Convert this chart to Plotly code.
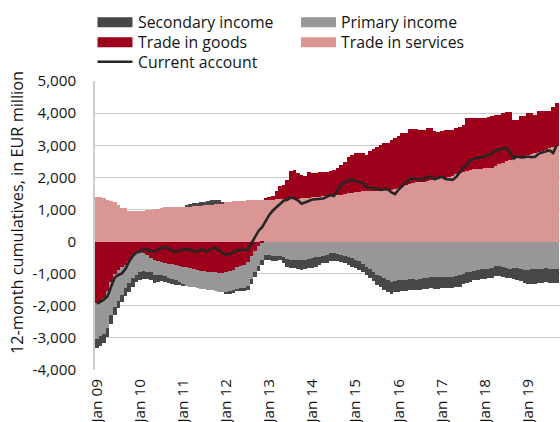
import plotly.graph_objects as go

# ---------------- data (EUR million, 12-month cumulatives, Jan 2009 - Sep 2019) ----------------
years = ["09", "10", "11", "12", "13", "14", "15", "16", "17", "18", "19"]
month_names = ["Jan", "Feb", "Mar", "Apr", "May", "Jun", "Jul", "Aug", "Sep", "Oct", "Nov", "Dec"]
months = [f"{m} {y}" for y in years for m in month_names][:129]

x_tick_labels = [f"Jan {y}" for y in years]
y_tick_vals = [-4000, -3000, -2000, -1000, 0, 1000, 2000, 3000, 4000, 5000]
y_tick_text = ["-4,000", "-3,000", "-2,000", "-1,000", "0", "1,000", "2,000", "3,000", "4,000", "5,000"]

trade_services = [
    1400, 1390, 1350, 1300, 1260, 1220, 1140, 1060, 1040, 960,
    950, 950, 950, 960, 970, 990, 1000, 1010, 1060, 1065,
    1065, 1070, 1070, 1070, 1070, 1080, 1090, 1100, 1110, 1120,
    1130, 1140, 1150, 1160, 1180, 1200, 1230, 1240, 1250, 1260,
    1270, 1270, 1280, 1280, 1290, 1290, 1290, 1300, 1300, 1300,
    1310, 1310, 1320, 1320, 1330, 1340, 1340, 1350, 1360, 1370,
    1380, 1390, 1400, 1410, 1420, 1430, 1440, 1450, 1460, 1480,
    1500, 1520, 1540, 1550, 1560, 1570, 1580, 1580, 1590, 1600,
    1600, 1610, 1610, 1640, 1680, 1730, 1760, 1790, 1810, 1840,
    1860, 1870, 1900, 1930, 1950, 1960, 1970, 1990, 2020, 2050,
    2100, 2130, 2160, 2200, 2220, 2250, 2260, 2270, 2280, 2290,
    2300, 2350, 2420, 2460, 2500, 2540, 2580, 2610, 2640, 2670,
    2690, 2720, 2750, 2790, 2820, 2850, 2900, 2950, 2990,
]

trade_goods = [
    -1900, -1850, -1770, -1550, -1250, -1000, -900, -790, -720, -600,
    -450, -360, -320, -360, -420, -510, -570, -610, -650, -680,
    -700, -710, -740, -760, -780, -800, -820, -850, -880, -910,
    -930, -950, -960, -960, -970, -990, -960, -920, -880, -800,
    -760, -720, -650, -450, -300, -150, -50, 40, 80, 120,
    250, 420, 450, 600, 870, 880, 790, 720, 690, 810,
    770, 760, 780, 770, 760, 760, 800, 830, 930, 1010,
    1130, 1180, 1210, 1210, 1210, 1140, 1250, 1300, 1370, 1410,
    1460, 1470, 1560, 1580, 1600, 1640, 1620, 1700, 1690, 1650,
    1600, 1590, 1650, 1620, 1480, 1460, 1460, 1470, 1440, 1430,
    1430, 1450, 1470, 1640, 1620, 1590, 1580, 1580, 1580, 1580,
    1620, 1580, 1520, 1540, 1550, 1500, 1200, 1170, 1260, 1250,
    1300, 1280, 1200, 1280, 1260, 1230, 1160, 1250, 1340,
]

primary_income = [
    -1120, -1100, -1110, -1150, -1050, -1050, -950, -860, -730, -700,
    -700, -670, -640, -560, -520, -450, -470, -420, -380, -400,
    -430, -460, -460, -490, -550, -570, -580, -580, -570, -560,
    -550, -550, -560, -580, -590, -590, -620, -640, -630, -670,
    -690, -720, -720, -730, -650, -610, -510, -420, -420, -440,
    -450, -440, -480, -540, -570, -560, -560, -570, -560, -540,
    -520, -490, -470, -440, -420, -370, -370, -390, -410, -440,
    -480, -520, -570, -620, -700, -790, -870, -940, -1030, -1080,
    -1140, -1200, -1250, -1220, -1200, -1190, -1190, -1170, -1170, -1190,
    -1180, -1150, -1120, -1100, -1100, -1100, -1100, -1100, -1100, -1100,
    -1070, -1040, -1000, -960, -940, -910, -890, -870, -860, -840,
    -810, -770, -750, -800, -830, -840, -830, -830, -850, -880,
    -880, -860, -850, -850, -840, -830, -840, -850, -850,
]

secondary_income = [
    -310, -290, -280, -270, -280, -250, -230, -230, -250, -260,
    -250, -240, -240, -250, -240, -230, -240, -220, -200, -190,
    -170, -150, -140, -110, -40, 40, 70, 90, 100, 110,
    100, 120, 130, 140, 110, 20, -40, -60, -80, -80,
    -100, -110, -130, -150, -160, -160, -160, -150, -160, -160,
    -150, -140, -180, -240, -260, -270, -290, -310, -280, -280,
    -290, -290, -260, -240, -240, -240, -240, -230, -230, -230,
    -240, -260, -260, -260, -260, -260, -260, -280, -310, -330,
    -360, -360, -370, -360, -360, -350, -340, -340, -340, -320,
    -330, -340, -350, -360, -370, -380, -360, -360, -350, -350,
    -350, -360, -330, -320, -310, -300, -300, -300, -300, -310,
    -310, -310, -310, -300, -300, -310, -330, -360, -390, -420,
    -430, -450, -460, -450, -440, -440, -440, -440, -440,
]

current_account = [
    -1930, -1880, -1800, -1700, -1400, -1120, -1040, -990, -850, -620,
    -450, -340, -320, -220, -240, -300, -310, -250, -190, -190,
    -210, -280, -330, -270, -240, -230, -260, -300, -310, -230,
    -300, -280, -220, -190, -280, -360, -420, -380, -340, -270,
    -260, -260, -250, -60, 150, 330, 450, 650, 830, 970,
    1080, 1180, 1270, 1300, 1370, 1340, 1280, 1180, 1220, 1270,
    1310, 1320, 1320, 1340, 1390, 1450, 1420, 1600, 1760, 1840,
    1900, 1930, 1880, 1870, 1830, 1690, 1670, 1660, 1660, 1610,
    1620, 1630, 1530, 1480, 1620, 1730, 1850, 1940, 1970, 1940,
    1920, 1970, 1990, 2030, 1940, 1990, 2020, 1950, 1930, 1920,
    2010, 2150, 2300, 2400, 2530, 2580, 2600, 2620, 2660, 2700,
    2750, 2830, 2870, 2880, 2910, 2790, 2580, 2650, 2620, 2630,
    2650, 2630, 2640, 2740, 2770, 2800, 2840, 2760, 3010,
]

for name, arr in [("services", trade_services), ("goods", trade_goods), ("primary", primary_income),
                  ("secondary", secondary_income), ("current", current_account)]:
    if len(arr) != len(months):
        raise ValueError(f"{name} has {len(arr)} values, expected {len(months)}")

# ---------------- style ----------------
FONT = "Open Sans"
C_SEC = "#474747"
C_PRI = "#979797"
C_GOODS = "#9c001a"
C_SERV = "#d99694"
C_LINE = "#262626"
GRID = "#cdcdcd"
TXT = "#141414"

W, H = 560, 422
ML, MR, MT, MB = 95, 0, 81, 52
PW, PH = W - ML - MR, H - MT - MB

fig = go.Figure()
fig.add_trace(go.Bar(x=months, y=trade_services, name="Trade in services", marker=dict(color=C_SERV, line=dict(width=0))))
fig.add_trace(go.Bar(x=months, y=trade_goods, name="Trade in goods", marker=dict(color=C_GOODS, line=dict(width=0))))
fig.add_trace(go.Bar(x=months, y=primary_income, name="Primary income", marker=dict(color=C_PRI, line=dict(width=0))))
fig.add_trace(go.Bar(x=months, y=secondary_income, name="Secondary income", marker=dict(color=C_SEC, line=dict(width=0))))
fig.add_trace(go.Scatter(x=months, y=current_account, name="Current account", mode="lines",
                         line=dict(color=C_LINE, width=2.6)))


def px_x(px):
    return (px - ML) / PW


def px_y(py):
    return (H - MB - py) / PH


legend_items = [
    ("Secondary income", C_SEC, "box", 97.5, 22.3),
    ("Primary income", C_PRI, "box", 301, 22.3),
    ("Trade in goods", C_GOODS, "box", 97.5, 42.3),
    ("Trade in services", C_SERV, "box", 301, 42.3),
    ("Current account", C_LINE, "line", 97.5, 61.8),
]
shapes = []
annotations = []
for label, color, kind, x0, yc in legend_items:
    if kind == "box":
        shapes.append(dict(type="rect", xref="paper", yref="paper",
                           x0=px_x(x0), x1=px_x(x0 + 35), y0=px_y(yc + 5), y1=px_y(yc - 5),
                           fillcolor=color, line=dict(width=0), layer="above"))
    else:
        shapes.append(dict(type="line", xref="paper", yref="paper",
                           x0=px_x(x0), x1=px_x(x0 + 35), y0=px_y(yc), y1=px_y(yc),
                           line=dict(color=color, width=2.6), layer="above"))
    annotations.append(dict(text=label, xref="paper", yref="paper", x=px_x(x0 + 38), y=px_y(yc),
                            xanchor="left", yanchor="middle", showarrow=False,
                            font=dict(family=FONT, size=15.8, color=TXT)))

annotations.append(dict(text="12-month cumulatives, in EUR million", xref="paper", yref="paper",
                        x=px_x(17), y=px_y(213), xanchor="center", yanchor="middle", textangle=-90,
                        showarrow=False, font=dict(family=FONT, size=16.3, color=TXT)))

fig.update_layout(
    width=W, height=H,
    margin=dict(l=ML, r=MR, t=MT, b=MB, autoexpand=False),
    paper_bgcolor="white", plot_bgcolor="white",
    barmode="relative", bargap=0,
    showlegend=False,
    font=dict(family=FONT, size=15, color=TXT),
    shapes=shapes, annotations=annotations,
    xaxis=dict(type="category", range=[-0.5, 128.9], tickmode="array",
               tickvals=x_tick_labels, ticktext=x_tick_labels, tickangle=-90,
               showgrid=False, showline=False, zeroline=False, ticks="",
               ticklabelstandoff=5, tickfont=dict(family=FONT, size=15.3, color=TXT)),
    yaxis=dict(range=[-4000, 5000], tickmode="array", tickvals=y_tick_vals, ticktext=y_tick_text,
               showgrid=True, gridcolor=GRID, gridwidth=1.4, zeroline=False,
               showline=True, linecolor=GRID, linewidth=1.6, ticks="",
               ticklabelstandoff=14, tickfont=dict(family=FONT, size=15.2, color=TXT)),
)

fig.write_html("out.html", config={"displayModeBar": False},
               post_script="document.body.style.margin='0';document.body.style.overflow='hidden';")
